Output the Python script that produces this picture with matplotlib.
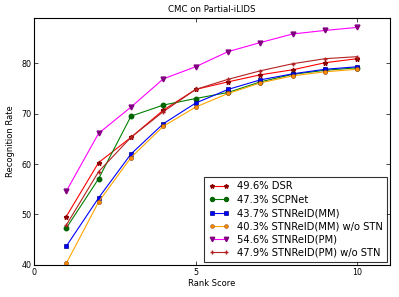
import matplotlib
matplotlib.use("Agg")
import matplotlib.pyplot as plt

# CMC curves on Partial-iLIDS
ranks = [1, 2, 3, 4, 5, 6, 7, 8, 9, 10]
dsr = [49.6, 60.3, 65.3, 70.7, 74.8, 76.3, 77.7, 78.7, 80.1, 80.9]
scpnet = [47.3, 57.1, 69.5, 71.7, 73.0, 74.2, 76.3, 77.8, 78.6, 79.1]
mm = [43.7, 53.3, 62.0, 68.0, 72.1, 74.8, 76.7, 77.9, 78.8, 79.3]
mm_nostn = [40.3, 52.5, 61.3, 67.5, 71.3, 74.0, 76.1, 77.5, 78.3, 78.8]
pm = [54.6, 66.1, 71.3, 76.9, 79.3, 82.3, 84.1, 85.8, 86.5, 87.1]
pm_nostn = [47.9, 58.5, 65.3, 70.4, 74.8, 76.8, 78.5, 79.9, 80.9, 81.3]
labels = ["49.6% DSR", "47.3% SCPNet", "43.7% STNReID(MM)",
          "40.3% STNReID(MM) w/o STN", "54.6% STNReID(PM)",
          "47.9% STNReID(PM) w/o STN"]

fig = plt.figure(figsize=(3.99, 2.97), dpi=100)
ax = fig.add_axes([0.085, 0.108, 0.892, 0.832])

ax.plot(ranks, dsr, color="red", lw=0.8, marker="*", ms=3.5,
        mfc="darkred", mec="darkred", label=labels[0])
ax.plot(ranks, scpnet, color="green", lw=0.8, marker="o", ms=3.2,
        mfc="darkgreen", mec="darkgreen", label=labels[1])
ax.plot(ranks, mm, color="blue", lw=0.8, marker="s", ms=3.5,
        mfc="blue", mec="darkblue", mew=0.5, label=labels[2])
ax.plot(ranks, mm_nostn, color="orange", lw=0.8, marker="o", ms=3,
        mfc="darkorange", mec="saddlebrown", mew=0.4, label=labels[3])
ax.plot(ranks, pm, color="magenta", lw=0.8, marker="v", ms=3.5,
        mfc="purple", mec="purple", label=labels[4])
ax.plot(ranks, pm_nostn, color="firebrick", lw=0.8, marker="+", ms=3,
        mec="firebrick", label=labels[5])

ax.set_xlim(0, 11)
ax.set_ylim(40, 89)
ax.set_xticks([0, 5, 10])
ax.set_yticks([40, 50, 60, 70, 80])
ax.tick_params(direction="in", labelsize=5.8, length=3, width=0.5,
               top=True, right=True, pad=2)
for s in ax.spines.values():
    s.set_linewidth(0.8)

ax.set_title("CMC on Partial-iLIDS", fontsize=6.2, pad=4)
ax.set_xlabel("Rank Score", fontsize=6, labelpad=2)
ax.set_ylabel("Recognition Rate", fontsize=6, labelpad=4)

leg = ax.legend(loc="lower right", fontsize=7.2, frameon=True, fancybox=False,
                borderaxespad=0.25, handlelength=2.0, labelspacing=0.33,
                borderpad=0.45, numpoints=2, markerscale=0.9)
leg.get_frame().set_edgecolor("black")
leg.get_frame().set_linewidth(0.8)

fig.savefig("out.png", dpi=100)
